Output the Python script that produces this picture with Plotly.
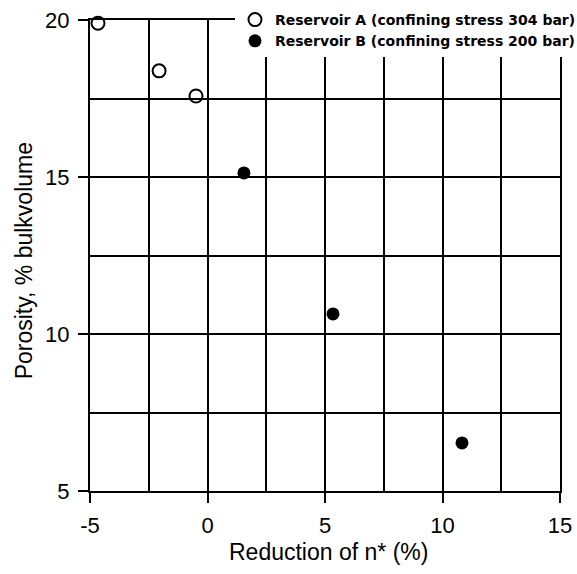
import plotly.graph_objects as go

# Data
res_a_x = [-4.66, -2.06, -0.49]
res_a_y = [19.9, 18.38, 17.58]
res_b_x = [1.55, 5.34, 10.83]
res_b_y = [15.13, 10.64, 6.53]

name_a = "Reservoir A (confining stress 304 bar)"
name_b = "Reservoir B (confining stress 200 bar)"

x_ticks = [-5, 0, 5, 10, 15]
y_ticks = [5, 10, 15, 20]

x_title = "Reduction of n* (%)"
y_title = "Porosity, % bulkvolume"

fig = go.Figure()
fig.add_trace(go.Scatter(
    x=res_a_x, y=res_a_y, mode="markers", name=name_a, cliponaxis=False,
    marker=dict(symbol="circle-open", size=13, color="black", line=dict(width=2, color="black")),
))
fig.add_trace(go.Scatter(
    x=res_b_x, y=res_b_y, mode="markers", name=name_b, cliponaxis=False,
    marker=dict(symbol="circle", size=13, color="black"),
))

axis_common = dict(
    showline=True, linecolor="black", linewidth=2, mirror=True,
    showgrid=True, gridcolor="black", gridwidth=2,
    ticks="outside", ticklen=10, tickwidth=2, tickcolor="black",
    tickfont=dict(family="Liberation Sans, Arial, sans-serif", size=22, color="black"),
    zeroline=False, ticklabelstandoff=4,
    minor=dict(dtick=2.5, showgrid=True, gridcolor="black", gridwidth=2, ticks=""),
)

fig.update_xaxes(range=[-5, 15], tickmode="array", tickvals=x_ticks,
                 ticktext=[str(v) for v in x_ticks], **axis_common)
fig.update_yaxes(range=[5, 20], tickmode="array", tickvals=y_ticks,
                 ticktext=[str(v) for v in y_ticks], **axis_common)

title_font = dict(family="Liberation Sans, Arial, sans-serif", size=23, color="black")
fig.add_annotation(text=x_title, xref="paper", yref="paper", x=0.5085, y=-0.1295,
                   xanchor="center", yanchor="middle", showarrow=False, font=title_font)
fig.add_annotation(text=y_title, xref="paper", yref="paper", x=-0.140, y=0.488,
                   xanchor="center", yanchor="middle", showarrow=False, textangle=-90,
                   font=title_font)

fig.update_layout(
    width=577, height=574,
    margin=dict(l=90, r=17, t=20, b=83, autoexpand=False),
    paper_bgcolor="white", plot_bgcolor="white",
    showlegend=True,
    legend=dict(
        x=0.3085, y=1.034, xanchor="left", yanchor="top",
        bgcolor="white", borderwidth=0,
        font=dict(family="DejaVu Sans", size=14, color="black", weight="bold"),
        itemwidth=30, tracegroupgap=0,
    ),
)

fig.write_html("out.html")
